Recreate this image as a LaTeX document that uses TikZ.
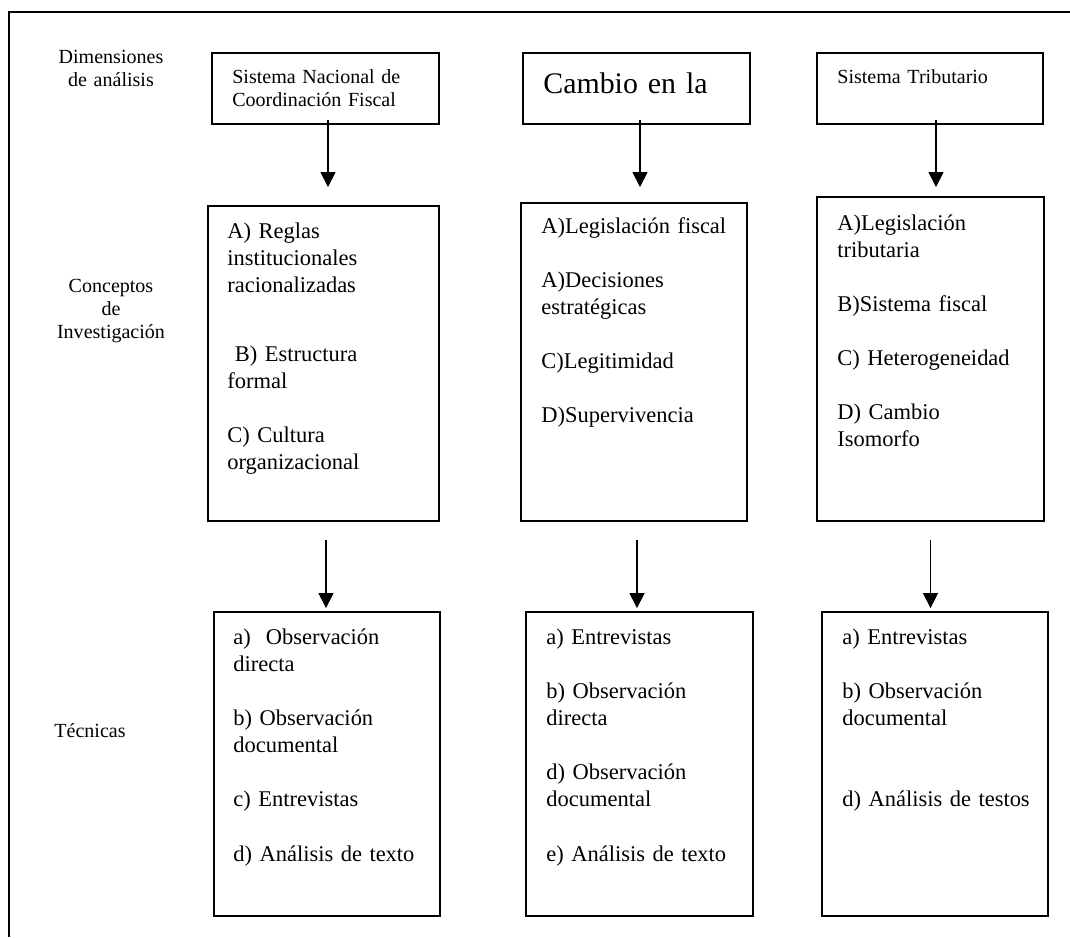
\documentclass[tikz,border=0pt]{standalone}
\usepackage{fontspec}
\setmainfont{Liberation Serif}
\usetikzlibrary{arrows.meta}

\tikzset{
    caja/.style={draw, line width=1.1pt, inner sep=0pt},
    texto/.style={anchor=base west, inner sep=0pt, text width=4.2cm, align=left,
        font=\fontsize{12.8}{15.4}\selectfont},
    chico/.style={anchor=base west, inner sep=0pt, text width=4.2cm, align=left,
        font=\fontsize{11.4}{13.6}\selectfont},
    etiqueta/.style={anchor=base, inner sep=0pt, text width=3.2cm, align=center,
        font=\fontsize{11.4}{13.1}\selectfont},
    flecha/.style={line width=0.8pt, -{Triangle[width=0.3cm, length=0.3cm]}}
}

\begin{document}
\begin{tikzpicture}[x=0.02cm, y=-0.02cm]
    \useasboundingbox (0,0) rectangle (1070,937);

    % marco
    \draw[line width=1.1pt] (9,937) -- (9,12) -- (1070,12);

    % etiquetas de la izquierda
    \node[etiqueta] (lbldim) at (111,63) {Dimensiones\\de análisis};
    \node[etiqueta] (lblcon) at (111,292) {Conceptos\\de\\Investigación};
    \node[etiqueta] (lbltec) at (90,737) {Técnicas};

    % dimensiones
    \node[caja, minimum width=4.54cm, minimum height=1.42cm] (dim1) at (325.5,88.5) {};
    \node[caja, minimum width=4.54cm, minimum height=1.42cm] (dim2) at (636.5,88.5) {};
    \node[caja, minimum width=4.52cm, minimum height=1.42cm] (dim3) at (930,88.5) {};
    \node[chico] (dim1t) at (232,83) {Sistema Nacional de\\Coordinación Fiscal};
    \node[texto, font=\fontsize{17}{20}\selectfont] (dim2t) at (543,93) {Cambio en la};
    \node[chico] (dim3t) at (837,83) {Sistema Tributario};

    % conceptos
    \node[caja, minimum width=4.62cm, minimum height=6.30cm] (con1) at (323.5,363.5) {};
    \node[caja, minimum width=4.52cm, minimum height=6.36cm] (con2) at (634,362) {};
    \node[caja, minimum width=4.54cm, minimum height=6.48cm] (con3) at (930.5,359) {};
    \node[texto] (con1t) at (227,238) {A) Reglas\\institucionales\\racionalizadas\\[24pt]%
        \ B) Estructura\\formal\\[15.5pt]C) Cultura\\organizacional};
    \node[texto] (con2t) at (541,233) {A)Legislación fiscal\\[15.5pt]A)Decisiones\\estratégicas\\[15.5pt]%
        C)Legitimidad\\[15.5pt]D)Supervivencia};
    \node[texto] (con3t) at (837,230) {A)Legislación\\tributaria\\[15.5pt]B)Sistema fiscal\\[15.5pt]%
        C) Heterogeneidad\\[15.5pt]D) Cambio\\Isomorfo};

    % tecnicas
    \node[caja, minimum width=4.52cm, minimum height=6.08cm] (tec1) at (327,764) {};
    \node[caja, minimum width=4.54cm, minimum height=6.08cm] (tec2) at (639.5,764) {};
    \node[caja, minimum width=4.52cm, minimum height=6.08cm] (tec3) at (935,764) {};
    \node[texto] (tec1t) at (233,644) {a)~ Observación\\directa\\[15.5pt]b) Observación\\documental\\[15.5pt]%
        c) Entrevistas\\[15.5pt]d) Análisis de texto};
    \node[texto] (tec2t) at (546,644) {a) Entrevistas\\[15.5pt]b) Observación\\directa\\[15.5pt]%
        d) Observación\\documental\\[15.5pt]e) Análisis de texto};
    \node[texto] (tec3t) at (842,644) {a) Entrevistas\\[15.5pt]b) Observación\\documental\\[30.7pt]%
        d) Análisis de testos};

    % flechas
    \draw[flecha, shorten <=-0.1cm, shorten >=0.36cm] ([xshift=0.05cm]dim1.south) -- ([xshift=0.05cm]dim1.south |- con1.north);
    \draw[flecha, shorten <=-0.1cm, shorten >=0.30cm] ([xshift=0.07cm]dim2.south) -- ([xshift=0.07cm]dim2.south |- con2.north);
    \draw[flecha, shorten <=-0.1cm, shorten >=0.18cm] ([xshift=0.12cm]dim3.south) -- ([xshift=0.12cm]dim3.south |- con3.north);
    \draw[flecha, shorten <=0.36cm, shorten >=0.06cm] ([xshift=0.05cm]con1.south) -- ([xshift=0.05cm]con1.south |- tec1.north);
    \draw[flecha, shorten <=0.36cm, shorten >=0.06cm] ([xshift=0.06cm]con2.south) -- ([xshift=0.06cm]con2.south |- tec2.north);
    \draw[flecha, shorten <=0.36cm, shorten >=0.06cm] (con3.south) -- (con3.south |- tec3.north);

\end{tikzpicture}
\end{document}
